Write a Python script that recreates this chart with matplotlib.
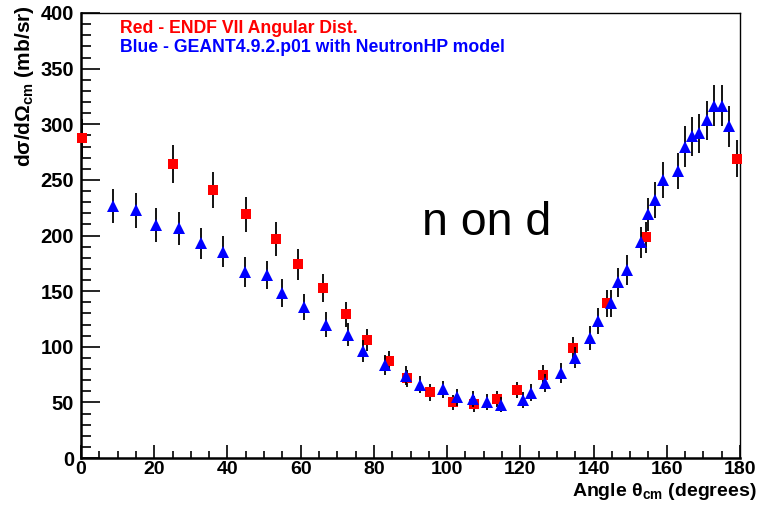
import numpy as np
import matplotlib.pyplot as plt
from matplotlib.ticker import MultipleLocator

plt.rcParams['font.family'] = ['Liberation Sans', 'DejaVu Sans']
plt.rcParams['mathtext.fontset'] = 'custom'
plt.rcParams['mathtext.rm'] = 'Liberation Sans:bold'
plt.rcParams['mathtext.it'] = 'Liberation Sans:bold'
plt.rcParams['mathtext.bf'] = 'Liberation Sans:bold'

# ENDF VII angular distribution (red squares)
endf_angle = [0.2, 25.0, 36.1, 45.0, 53.2, 59.3, 66.0, 72.4, 78.0, 84.2, 89.0,
              95.4, 101.7, 107.3, 113.5, 119.2, 126.2, 134.5, 143.6, 154.3, 179.3]
endf_xs = [288, 264, 241, 219, 197, 174, 153, 129, 106, 87, 71.5,
           59, 50, 48.5, 53, 61, 75, 98.5, 139, 198.5, 269]
endf_err = [17, 17, 16, 16, 15, 14, 12.5, 11, 10, 9, 8,
            7.5, 7, 7, 7, 7.5, 8.5, 10, 12, 14, 16.5]

# GEANT4.9.2.p01 NeutronHP (blue triangles)
g4_angle = [8.7, 14.9, 20.6, 26.7, 32.9, 38.8, 44.9, 50.8, 55.0, 60.8, 66.9,
            72.8, 77.0, 83.0, 88.7, 92.7, 99.0, 102.8, 107.1, 110.8, 114.8,
            120.8, 122.9, 126.7, 131.2, 134.8, 139.0, 141.1, 144.8, 146.8,
            149.0, 153.0, 154.9, 156.8, 159.1, 163.0, 164.9, 166.9, 168.9,
            171.0, 173.0, 175.0, 176.9]
g4_xs = [226.5, 222.5, 209.5, 206.5, 193, 185.5, 167.5, 164.5, 148.5, 135.8, 120,
         111, 96, 84, 74, 66, 61.6, 54.5, 53, 50.5, 48,
         52, 58.6, 67.6, 76, 90, 108, 123, 139, 158,
         169, 194, 219, 232, 250, 258, 280, 289, 292,
         303.5, 316.5, 316.5, 298]
g4_err = [15.5, 16, 15, 15, 14, 14, 13.5, 13, 12.5, 12, 11,
          10.5, 10, 9, 8.5, 8, 8, 7.5, 7.5, 7, 7,
          7, 7.5, 8, 9, 9.5, 11, 11.5, 12, 13,
          13.5, 14, 15, 16, 16.5, 16.5, 18, 17.5, 17.5,
          17.5, 18.5, 18.5, 18]

fig = plt.figure(figsize=(7.68, 5.05), dpi=100)
ax = fig.add_axes([81 / 768, 1 - 458 / 505, 659 / 768, 445 / 505])

ax.errorbar(endf_angle, endf_xs, yerr=endf_err, fmt='none', ecolor='black',
            elinewidth=1.3, capsize=0)
ax.plot(endf_angle, endf_xs, 's', color='#ff0000', markersize=6.8,
        markeredgewidth=0, clip_on=False, zorder=3)
ax.errorbar(g4_angle, g4_xs, yerr=g4_err, fmt='none', ecolor='black',
            elinewidth=1.3, capsize=0, zorder=3.5)
ax.plot(g4_angle, g4_xs, '^', color='#0000ff', markersize=8.2,
        markeredgewidth=0, clip_on=False, zorder=4)

ax.set_xlim(0, 180)
ax.set_ylim(0, 400)
ax.xaxis.set_major_locator(MultipleLocator(20))
ax.xaxis.set_minor_locator(MultipleLocator(5))
ax.yaxis.set_major_locator(MultipleLocator(50))
ax.yaxis.set_minor_locator(MultipleLocator(10))
ax.tick_params(axis='both', which='both', direction='in', width=1.2,
               top=False, right=False)
ax.tick_params(axis='y', which='major', length=14, pad=5)
ax.tick_params(axis='y', which='minor', length=7)
ax.tick_params(axis='x', which='major', length=9.5, pad=2.5)
ax.tick_params(axis='x', which='minor', length=4.8)
for lab in ax.get_yticklabels():
    lab.set_fontsize(14.5)
    lab.set_fontweight('bold')
for lab in ax.get_xticklabels():
    lab.set_fontsize(14)
    lab.set_fontweight('bold')

for side in ['left', 'bottom']:
    ax.spines[side].set_linewidth(1.8)
for side in ['top', 'right']:
    ax.spines[side].set_linewidth(1.0)

ax.text(0.059, 0.966, 'Red - ENDF VII Angular Dist.', color='#ff0000',
        fontsize=12.7, fontweight='bold', transform=ax.transAxes, va='center')
ax.text(0.059, 0.922, 'Blue - GEANT4.9.2.p01 with NeutronHP model', color='#0000ff',
        fontsize=12.7, fontweight='bold', transform=ax.transAxes, va='center')
ax.text(0.616, 0.501, 'n on d', fontsize=33.5, transform=ax.transAxes,
        ha='center', va='baseline')

fig.text(25 / 768, 1 - 5 / 505, r'd$\sigma$/d$\Omega_{\mathrm{cm}}$ (mb/sr)',
         rotation=90, ha='center', va='top', fontsize=15, fontweight='bold')
fig.text(757 / 768, 1 - 496 / 505, r'Angle $\theta_{\mathrm{cm}}$ (degrees)',
         ha='right', va='baseline', fontsize=14, fontweight='bold')

fig.savefig('out.png', dpi=100)
